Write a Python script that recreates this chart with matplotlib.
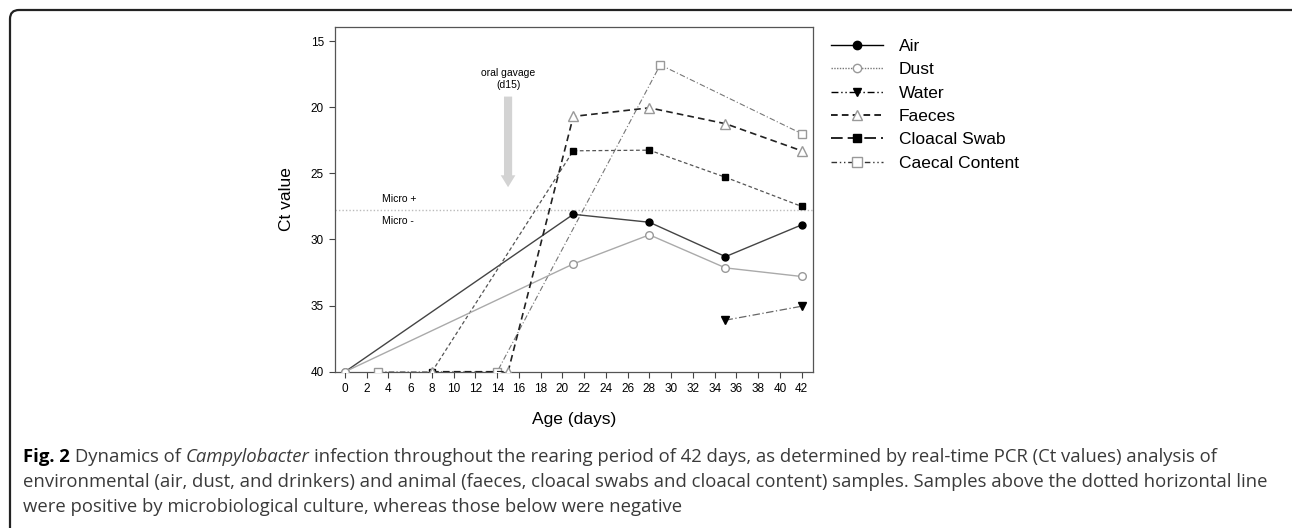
import matplotlib
matplotlib.use('Agg')
from matplotlib import pyplot as plt
from matplotlib.lines import Line2D
from matplotlib.patches import FancyBboxPatch, FancyArrow
from matplotlib.transforms import IdentityTransform

# Ct values
days_air = [0, 21, 28, 35, 42]
ct_air = [40, 28.1, 28.7, 31.3, 28.9]

days_dust = [0, 21, 28, 35, 42]
ct_dust = [40, 31.85, 29.65, 32.15, 32.8]

days_water = [35, 42]
ct_water = [36.1, 35.05]

days_faeces = [8, 15, 21, 28, 35, 42]
ct_faeces = [40, 40, 20.7, 20.05, 21.25, 23.3]

days_swab = [8, 21, 28, 35, 42]
ct_swab = [40, 23.3, 23.25, 25.3, 27.5]

days_caecal = [3, 14, 29, 42]
ct_caecal = [40, 40, 16.8, 22.0]

micro_cutoff = 27.8
gavage_day = 15
x_ticks = list(range(0, 43, 2))
y_ticks = [15, 20, 25, 30, 35, 40]
labels = ['Air', 'Dust', 'Water', 'Faeces', 'Cloacal Swab', 'Caecal Content']

plt.rcParams['font.family'] = ['Liberation Sans', 'DejaVu Sans']

W, H = 1292, 528
fig = plt.figure(figsize=(W / 100, H / 100), dpi=100)
ax = fig.add_axes([335 / W, 1 - 372 / H, 478 / W, 345 / H])

ax.plot(days_air, ct_air, color='#444444', lw=1, marker='o', ms=5,
        mfc='black', mec='black', zorder=4)
ax.plot(days_dust, ct_dust, color='#aaaaaa', lw=1, marker='o', ms=5.5,
        mfc='white', mec='#999999', zorder=5)
ax.plot(days_water, ct_water, color='#666666', lw=0.9, ls=(0, (6, 2, 1, 2)),
        marker='v', ms=6, mfc='black', mec='black', zorder=4)
ax.plot(days_faeces, ct_faeces, color='#222222', lw=1.2, ls=(0, (4, 2.5)),
        marker='^', ms=6.5, mfc='white', mec='#999999', zorder=6)
ax.plot(days_swab, ct_swab, color='#555555', lw=0.9, ls=(0, (3, 2)),
        marker='s', ms=5, mfc='black', mec='black', zorder=4)
ax.plot(days_caecal, ct_caecal, color='#777777', lw=0.8, ls=(0, (5, 2, 1, 2)),
        marker='s', ms=5.5, mfc='white', mec='#999999', zorder=3)

ax.axhline(micro_cutoff, color='#bbbbbb', lw=1, ls=(0, (1, 1.5)), zorder=1)
ax.text(3.4, micro_cutoff - 0.45, 'Micro +', fontsize=7.5, ha='left', va='bottom')
ax.text(3.4, micro_cutoff + 0.45, 'Micro -', fontsize=7.5, ha='left', va='top')

ax.add_patch(FancyArrow(gavage_day, 19.2, 0, 6.85, width=0.75, head_width=1.35,
                        head_length=0.9, length_includes_head=True,
                        color='#d3d3d3', lw=0, zorder=2))
ax.text(gavage_day, 17.9, 'oral gavage\n(d15)', fontsize=7.5, ha='center',
        va='center', linespacing=1.25)

ax.set_xlim(-0.92, 43.05)
ax.set_ylim(40.02, 13.94)
ax.set_xticks(x_ticks)
ax.set_yticks(y_ticks)
ax.tick_params(labelsize=8.5, length=4, width=0.8, color='#444444', pad=4)
for s in ax.spines.values():
    s.set_color('#555555')
    s.set_linewidth(0.9)
ax.set_xlabel('Age (days)', fontsize=12.5, labelpad=12)
ax.set_ylabel('Ct value', fontsize=12.5, labelpad=12)

handles = [
    Line2D([], [], color='black', lw=1, marker='o', ms=6, mfc='black', mec='black'),
    Line2D([], [], color='#777777', lw=1, ls=(0, (1, 1)), marker='o', ms=6,
           mfc='white', mec='#999999'),
    Line2D([], [], color='black', lw=1, ls=(0, (5, 2, 1, 2, 1, 2)), marker='v', ms=6,
           mfc='black', mec='black'),
    Line2D([], [], color='black', lw=1.2, ls=(0, (4, 2.5)), marker='^', ms=6.5,
           mfc='white', mec='#999999'),
    Line2D([], [], color='black', lw=1.2, ls=(0, (7, 3)), marker='s', ms=6,
           mfc='black', mec='black'),
    Line2D([], [], color='#333333', lw=1, ls=(0, (4, 2, 1, 2, 1, 2)), marker='s',
           ms=6.5, mfc='white', mec='#999999'),
]
fig.legend(handles, labels, loc='upper left', bbox_to_anchor=(831 / W, 1 - 39 / H),
           frameon=False, fontsize=12.5, handlelength=3.0, handletextpad=0.9,
           labelspacing=0.47, borderpad=0, borderaxespad=0)

# caption
cap_font = ['Open Sans', 'DejaVu Sans']
cap_size = 13.3
cap_color = '#3a3a3a'
sp = 0.27 * cap_size
t = fig.text(23 / W, 1 - 457 / H, 'Fig. 2', fontsize=cap_size, family=cap_font,
             weight='bold', color='black', va='center', ha='left')
pieces = [('Dynamics of', 'normal'), ('Campylobacter', 'italic'),
          ('infection throughout the rearing period of 42 days, as determined by '
           'real-time PCR (Ct values) analysis of', 'normal')]
for txt, style in pieces:
    prev = t
    t = plt.annotate(txt, xy=(1, 0), xycoords=prev, xytext=(sp, 0),
                     textcoords='offset points', fontsize=cap_size, family=cap_font,
                     style=style, color=cap_color, ha='left', va='bottom',
                     annotation_clip=False)
    t.remove()
    fig.texts.append(t)
    t.set_figure(fig)
    t.axes = None
fig.text(23 / W, 1 - 482 / H,
         'environmental (air, dust, and drinkers) and animal (faeces, cloacal swabs and '
         'cloacal content) samples. Samples above the dotted horizontal line',
         fontsize=cap_size, family=cap_font, color=cap_color, va='center', ha='left')
fig.text(23 / W, 1 - 507 / H,
         'were positive by microbiological culture, whereas those below were negative',
         fontsize=cap_size, family=cap_font, color=cap_color, va='center', ha='left')

frame = FancyBboxPatch((10, -30), 1300, 30 + H - 10,
                       boxstyle='round,pad=0,rounding_size=9', fill=False,
                       ec='#222222', lw=1.6, transform=IdentityTransform())
fig.add_artist(frame)

fig.savefig('out.png', dpi=100)
